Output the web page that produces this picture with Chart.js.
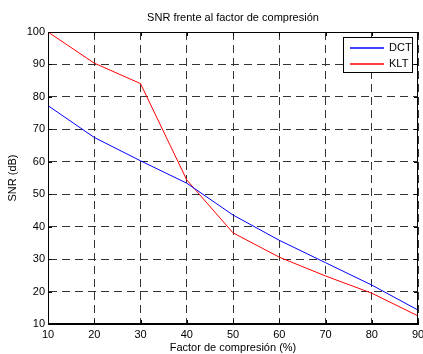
<!DOCTYPE html>
<html>
<head>
<meta charset="utf-8">
<script src="https://cdn.jsdelivr.net/npm/chart.js@4"></script>
<style>
  html, body { margin: 0; padding: 0; background: #fff; }
  #wrap { width: 423px; height: 354px; }
</style>
</head>
<body>
<div id="wrap"><canvas id="grafico" width="423" height="354"></canvas></div>
<script>
const factores = [10, 20, 30, 40, 50, 60, 70, 80, 90];
const snrDCT = [77.3, 67.5, 60.3, 53.4, 43.6, 35.8, 28.9, 22.0, 14.3];
const snrKLT = [100, 90.4, 84.1, 54.4, 38.1, 30.6, 24.8, 19.5, 12.5];
const ticksX = [10, 20, 30, 40, 50, 60, 70, 80, 90];
const ticksY = [10, 20, 30, 40, 50, 60, 70, 80, 90, 100];

const titulo = 'SNR frente al factor de compresión';
const fuente = 'Liberation Sans, Arial, sans-serif';
const colorDCT = '#0000ff';
const colorKLT = '#ff0000';

// pares x,y para la escala lineal
const puntos = (valores) => factores.map((f, i) => ({ x: f, y: valores[i] }));

// marco, titulo y leyenda al estilo matlab
const marcoPlugin = {
  id: 'marco',
  afterDraw(chart) {
    const { ctx, chartArea: a, scales } = chart;
    ctx.save();

    // ticks hacia dentro
    ctx.strokeStyle = '#000';
    ctx.lineWidth = 1;
    ctx.beginPath();
    ticksX.forEach(v => {
      const x = Math.round(scales.x.getPixelForValue(v)) + 0.5;
      ctx.moveTo(x, a.bottom); ctx.lineTo(x, a.bottom - 4);
      ctx.moveTo(x, a.top); ctx.lineTo(x, a.top + 4);
    });
    ticksY.forEach(v => {
      const y = Math.round(scales.y.getPixelForValue(v)) + 0.5;
      ctx.moveTo(a.left, y); ctx.lineTo(a.left + 4, y);
      ctx.moveTo(a.right, y); ctx.lineTo(a.right - 4, y);
    });
    ctx.stroke();

    ctx.strokeRect(a.left + 0.5, a.top + 0.5, a.right - a.left - 1, a.bottom - a.top - 1);

    // titulo centrado sobre el area del grafico
    ctx.fillStyle = '#000';
    ctx.font = '11px ' + fuente;
    ctx.textAlign = 'center';
    ctx.textBaseline = 'middle';
    ctx.fillText(titulo, (a.left + a.right) / 2, 18);

    // leyenda
    const lx = a.right - 75, ly = a.top + 5, lw = 70, lh = 36;
    ctx.fillStyle = '#fff';
    ctx.fillRect(lx, ly, lw, lh);
    ctx.strokeStyle = '#000';
    ctx.lineWidth = 1;
    ctx.strokeRect(lx + 0.5, ly + 0.5, lw - 1, lh - 1);
    const colores = [colorDCT, colorKLT];
    chart.data.datasets.forEach((ds, i) => {
      const y = ly + 11 + i * 16;
      ctx.strokeStyle = colores[i];
      ctx.lineWidth = 1.5;
      ctx.beginPath();
      ctx.moveTo(lx + 7, y);
      ctx.lineTo(lx + 41, y);
      ctx.stroke();
      ctx.fillStyle = '#000';
      ctx.textAlign = 'left';
      ctx.fillText(ds.label, lx + 46, y);
    });
    ctx.restore();
  }
};

const ctx = document.getElementById('grafico').getContext('2d');

new Chart(ctx, {
  type: 'line',
  data: {
    datasets: [
      {
        label: 'DCT',
        data: puntos(snrDCT),
        borderColor: colorDCT,
        borderWidth: 1,
        pointRadius: 0,
        tension: 0
      },
      {
        label: 'KLT',
        data: puntos(snrKLT),
        borderColor: colorKLT,
        borderWidth: 1,
        pointRadius: 0,
        tension: 0
      }
    ]
  },
  options: {
    responsive: false,
    animation: false,
    layout: { padding: { top: 32, right: 5, left: 0, bottom: 0 } },
    plugins: {
      legend: { display: false },
      tooltip: { enabled: false }
    },
    scales: {
      x: {
        type: 'linear',
        min: 10,
        max: 90,
        afterBuildTicks: (scale) => { scale.ticks = ticksX.map(v => ({ value: v })); },
        afterFit: (scale) => { scale.height = 30; scale.paddingRight = 0; scale.paddingLeft = 0; },
        grid: { color: '#333', drawTicks: false, lineWidth: 1 },
        border: { display: true, color: '#000', dash: [8, 5] },
        ticks: { color: '#000', font: { size: 11, family: fuente }, padding: 4, maxRotation: 0 },
        title: {
          display: true,
          text: 'Factor de compresión (%)',
          color: '#000',
          font: { size: 11, family: fuente },
          padding: { top: 0, bottom: -1 }
        }
      },
      y: {
        type: 'linear',
        min: 10,
        max: 100,
        afterBuildTicks: (scale) => { scale.ticks = ticksY.map(v => ({ value: v })); },
        afterFit: (scale) => { scale.width = 48; scale.paddingTop = 0; scale.paddingBottom = 0; },
        grid: { color: '#333', drawTicks: false, lineWidth: 1 },
        border: { display: true, color: '#000', dash: [8, 5] },
        ticks: { color: '#000', font: { size: 11, family: fuente }, padding: 3 },
        title: {
          display: true,
          text: 'SNR (dB)',
          color: '#000',
          font: { size: 11, family: fuente },
          padding: { top: 6, bottom: 0 }
        }
      }
    }
  },
  plugins: [marcoPlugin]
});
</script>
</body>
</html>
